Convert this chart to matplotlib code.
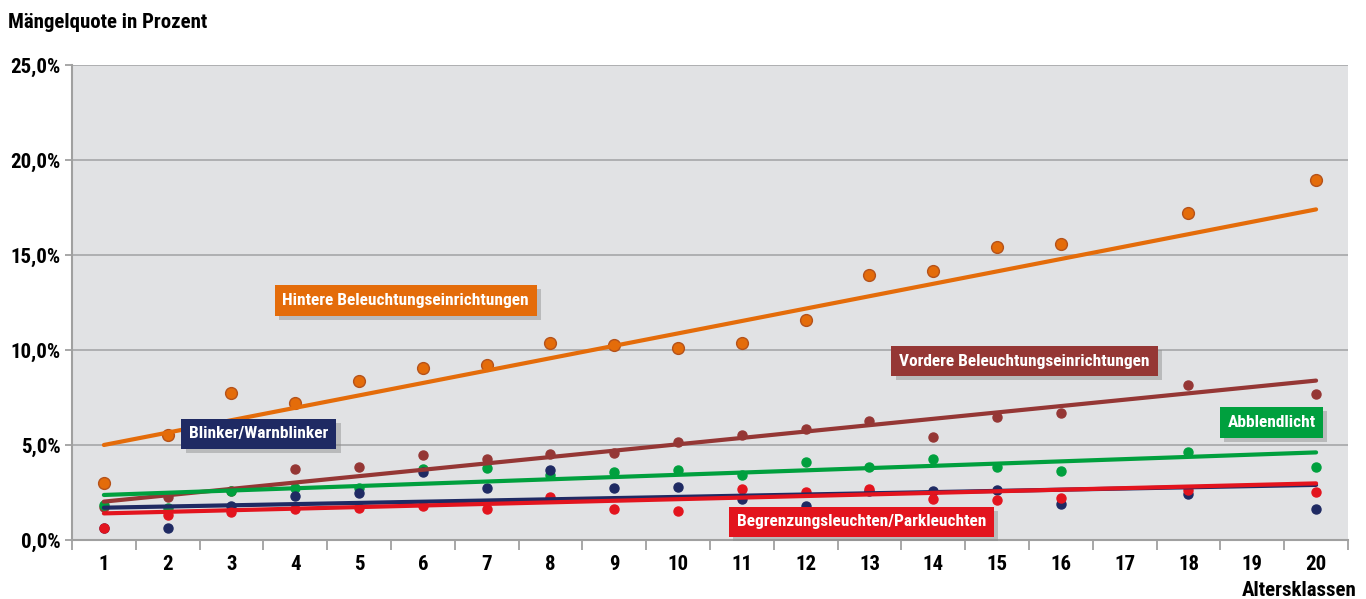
import numpy as np
import matplotlib
matplotlib.use("Agg")
import matplotlib.pyplot as plt
from matplotlib import font_manager
import matplotlib.patheffects as pe

# Altersklassen (17 und 19 ohne Werte)
categories = list(range(1, 21))
x_pos = [1, 2, 3, 4, 5, 6, 7, 8, 9, 10, 11, 12, 13, 14, 15, 16, 18, 20]

hintere = [3.0, 5.55, 7.75, 7.23, 8.35, 9.07, 9.2, 10.35, 10.26, 10.12,
           10.38, 11.6, 13.95, 14.16, 15.4, 15.6, 17.2, 18.95]
vordere = [1.75, 2.28, 2.58, 3.72, 3.86, 4.47, 4.25, 4.51, 4.56, 5.18,
           5.53, 5.82, 6.28, 5.4, 6.47, 6.7, 8.16, 7.68]
abblend = [1.85, 1.7, 2.58, 2.72, 2.72, 3.72, 3.77, 3.44, 3.6, 3.68,
           3.42, 4.12, 3.82, 4.26, 3.86, 3.65, 4.65, 3.82]
blinker = [0.63, 0.65, 1.79, 2.32, 2.49, 3.6, 2.72, 3.68, 2.72, 2.77,
           2.14, 1.79, 2.6, 2.6, 2.62, 1.89, 2.4, 1.61]
begrenz = [0.65, 1.32, 1.49, 1.61, 1.67, 1.79, 1.61, 2.28, 1.61, 1.54,
           2.67, 2.54, 2.67, 2.14, 2.1, 2.19, 2.63, 2.54]

# Trendlinien (Werte bei Klasse 1 und 20)
trend_x = [1, 20]
hintere_trend = [5.0, 17.4]
vordere_trend = [2.02, 8.39]
abblend_trend = [2.37, 4.61]
blinker_trend = [1.7, 2.9]
begrenz_trend = [1.4, 2.98]

yticks = [0, 5, 10, 15, 20, 25]
ytick_labels = ["0,0%", "5,0%", "10,0%", "15,0%", "20,0%", "25,0%"]

# schmale fette Schrift suchen
names = {f.name for f in font_manager.fontManager.ttflist}
font = "DejaVu Sans"
for cand in ["Roboto Condensed", "Liberation Sans Narrow", "DejaVu Sans Condensed",
             "Open Sans Condensed", "Noto Sans Condensed"]:
    if cand in names:
        font = cand
        break
plt.rcParams["font.family"] = [font, "DejaVu Sans"]
plt.rcParams["font.stretch"] = "condensed"

series = [
    (hintere, hintere_trend, "#E46C0A", "Hintere Beleuchtungseinrichtungen", (5.73, 12.6), 8.5),
    (vordere, vordere_trend, "#953735", "Vordere Beleuchtungseinrichtungen", (15.43, 9.42), 6.5),
    (abblend, abblend_trend, "#00A03E", "Abblendlicht", (19.3, 6.2), 6.5),
    (blinker, blinker_trend, "#1F2A63", "Blinker/Warnblinker", (3.43, 5.58), 6.5),
    (begrenz, begrenz_trend, "#E3141E", "Begrenzungsleuchten/Parkleuchten", (12.88, 0.95), 6.5),
]

fig = plt.figure(figsize=(13.66, 5.99), dpi=100)
ax = fig.add_axes([0.0527, 0.0985, 0.9341, 0.793])
ax.set_facecolor("#E1E2E4")

for vals, trend, col, label, pos, ms in series:
    edge = "#B5521A" if col == "#E46C0A" else col
    ax.plot(x_pos, vals, "o", color=col, markeredgecolor=edge, markeredgewidth=1.0,
            markersize=ms, zorder=3)
for vals, trend, col, label, pos, ms in series:
    ax.plot(trend_x, trend, color=col, lw=3.0, solid_capstyle="round", zorder=4)

for vals, trend, col, label, pos, ms in series:
    t = ax.text(pos[0], pos[1], label, ha="center", va="center", color="white",
                fontsize=12.5, fontweight="bold", zorder=6,
                bbox=dict(boxstyle="square,pad=0.45", fc=col, ec="none"))
    t.get_bbox_patch().set_path_effects([
        pe.SimplePatchShadow(offset=(3, -3), shadow_rgbFace="#8A8A8A", alpha=0.45),
        pe.Normal()])

ax.set_xlim(0.5, 20.5)
ax.set_ylim(0, 25)
ax.set_xticks(categories)
ax.set_xticklabels([str(c) for c in categories])
ax.set_xticks(np.arange(0.5, 21, 1), minor=True)
ax.tick_params(axis="x", which="major", length=0, pad=11, labelsize=15)
ax.tick_params(axis="x", which="minor", length=7, width=1.3, color="#A0A0A0", direction="out")
ax.set_yticks(yticks)
ax.set_yticklabels(ytick_labels)
ax.tick_params(axis="y", length=5, width=1.3, color="#A0A0A0", pad=3, labelsize=15)
for lab in ax.get_xticklabels() + ax.get_yticklabels():
    lab.set_fontweight("bold")

ax.grid(axis="y", color="#A6A7A9", lw=1.2, zorder=1)
ax.set_axisbelow(True)
for s in ["top", "right"]:
    ax.spines[s].set_visible(False)
for s in ["left", "bottom"]:
    ax.spines[s].set_color("#A0A0A0")
    ax.spines[s].set_linewidth(1.5)

fig.text(0.006, 0.963, "Mängelquote in Prozent", fontsize=15, fontweight="bold",
         ha="left", va="center")
fig.text(0.993, 0.015, "Altersklassen", fontsize=15, fontweight="bold",
         ha="right", va="center")

fig.savefig("out.png", dpi=100)
